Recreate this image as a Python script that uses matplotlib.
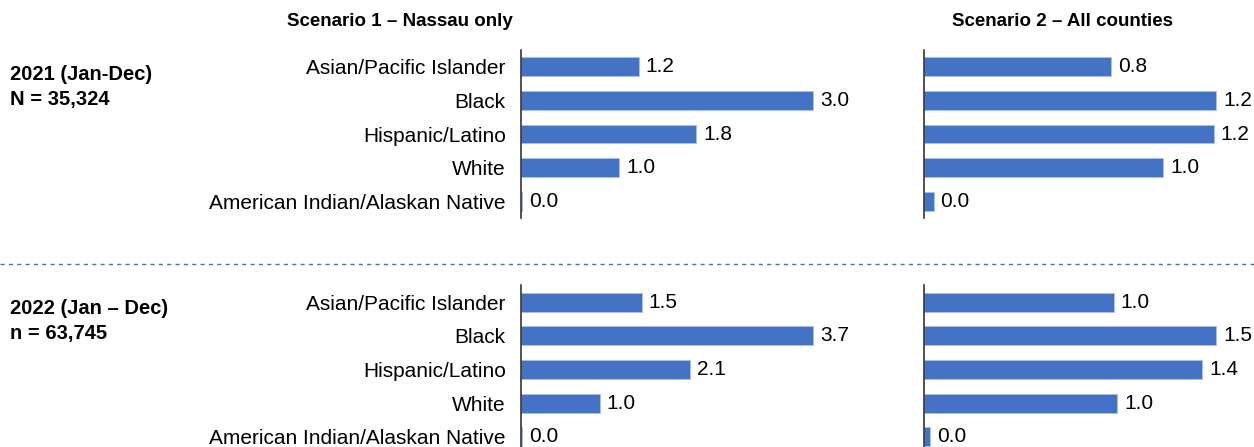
import matplotlib
matplotlib.use("Agg")
import matplotlib.pyplot as plt
from matplotlib.lines import Line2D

plt.rcParams['font.family'] = ['Liberation Sans', 'DejaVu Sans']

categories = ['Asian/Pacific Islander', 'Black', 'Hispanic/Latino', 'White',
              'American Indian/Alaskan Native']
scenario_titles = ['Scenario 1 \u2013 Nassau only', 'Scenario 2 \u2013 All counties']
period_labels = [('2021 (Jan-Dec)', 'N = 35,324'), ('2022 (Jan \u2013 Dec)', 'n = 63,745')]

# values (labels are the rounded values)
s1_2021 = [1.20, 2.98, 1.79, 1.00, 0.01]
s2_2021 = [0.78, 1.22, 1.21, 1.00, 0.04]
s1_2022 = [1.53, 3.70, 2.14, 1.00, 0.01]
s2_2022 = [0.98, 1.51, 1.44, 1.00, 0.03]

W, H = 1254, 447
bar_color = '#4472C4'
font_size = 15

fig = plt.figure(figsize=(W / 100, H / 100), dpi=100)


def px_axes(left, top, width, height):
    return fig.add_axes([left / W, 1 - (top + height) / H, width / W, height / H])


def draw_panel(ax, values, show_labels):
    y = range(len(values))
    bars = ax.barh(y, values, height=0.56, color=bar_color,
                   edgecolor='#A9C0E8', linewidth=0.7)
    ax.set_ylim(len(values) - 0.5, -0.5)
    ax.set_xlim(0, max(values) * 330 / 292)
    ax.bar_label(bars, fmt='%.1f', padding=5, fontsize=font_size)
    for side in ['top', 'right', 'bottom']:
        ax.spines[side].set_visible(False)
    ax.spines['left'].set_linewidth(1.1)
    ax.spines['left'].set_color('#222222')
    ax.set_xticks([])
    ax.set_yticks(list(y))
    if show_labels:
        ax.set_yticklabels(categories, fontsize=font_size)
    else:
        ax.set_yticklabels([])
    ax.tick_params(axis='y', length=0, pad=11)
    ax.set_facecolor('none')


panel_h = 168
rows = [(50, s1_2021, s2_2021), (285.5, s1_2022, s2_2022)]
for top, left_vals, right_vals in rows:
    draw_panel(px_axes(521, top, 330, panel_h), left_vals, True)
    draw_panel(px_axes(924, top, 330, panel_h), right_vals, False)

fig.text(400 / W, 1 - 22 / H, scenario_titles[0], ha='center', va='center',
         fontsize=13.5, fontweight='bold')
fig.text(1063 / W, 1 - 22 / H, scenario_titles[1], ha='center', va='center',
         fontsize=13.5, fontweight='bold')

for (line1, line2), y0 in zip(period_labels, [75, 308]):
    fig.text(10 / W, 1 - y0 / H, line1, ha='left', va='center',
             fontsize=14.5, fontweight='bold')
    fig.text(10 / W, 1 - (y0 + 25) / H, line2, ha='left', va='center',
             fontsize=14.5, fontweight='bold')

fig.add_artist(Line2D([0, 1], [1 - 264 / H, 1 - 264 / H], transform=fig.transFigure,
                      color='#4472C4', linewidth=1, linestyle=(0, (3, 3))))

fig.savefig('out.png', dpi=100)
